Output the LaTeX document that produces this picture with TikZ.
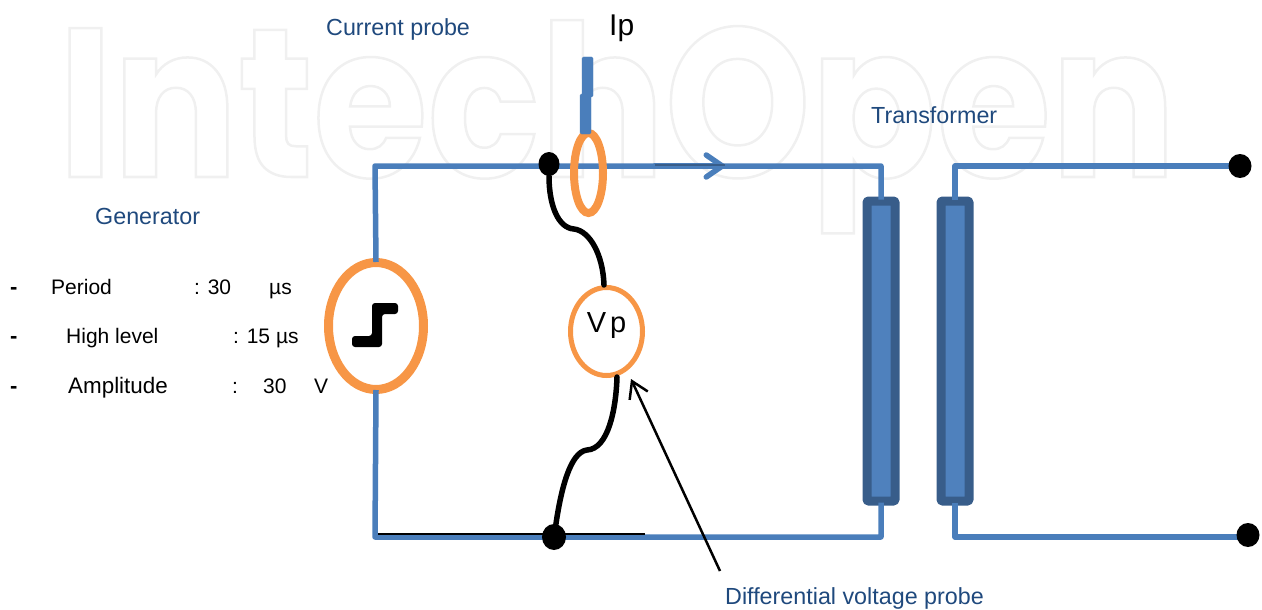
\documentclass[tikz,border=0pt]{standalone}
\usepackage{fontspec}
\setmainfont{Liberation Sans}
\newfontfamily\markfont[FakeStretch=0.875]{Poppins}
\usetikzlibrary{shapes.geometric,arrows.meta}
\definecolor{wireblue}{HTML}{4A7EBB}
\definecolor{coildark}{HTML}{385D8A}
\definecolor{coillight}{HTML}{4F81BD}
\definecolor{ringorange}{HTML}{F79646}
\definecolor{labelblue}{HTML}{1F497D}
\begin{document}
\begin{tikzpicture}[x=1pt,y=-1pt,
    wire/.style={draw=wireblue,line width=5.5pt,line join=round},
    probewire/.style={draw=black,line width=5.5pt,line cap=round},
    ring/.style={draw=ringorange,ellipse,inner sep=0pt},
    dot/.style={fill=black,ellipse,inner sep=0pt},
    coil/.style={draw=coildark,fill=coillight,line width=9pt,line join=round,rounded corners=1pt,minimum width=28pt,minimum height=300pt,inner sep=0pt},
    handle/.style={fill=wireblue,draw=wireblue,rounded corners=1.5pt,inner sep=0pt,minimum width=11pt,minimum height=40pt},
    title/.style={text=labelblue,font=\fontsize{23.3}{26}\selectfont,anchor=base west,inner sep=0pt},
    item/.style={text=black,font=\fontsize{21}{26}\selectfont,anchor=base west,inner sep=0pt},
    dashitem/.style={item,font=\bfseries\fontsize{22}{26}\selectfont}]
  \useasboundingbox (0,0) rectangle (1262,610);
  \node[anchor=base west,inner sep=0pt,text=black,font=\markfont\bfseries\fontsize{212}{212}\selectfont] (mark) at (58,177)
    {\special{pdf:code 0.94 G 2.5 w 1 Tr}IntechOpen\special{pdf:code 0 Tr 0 G}};

  \node[ring,line width=9pt,minimum width=95pt,minimum height=127pt] (gen) at (376,326) {};
  \node[ring,line width=5pt,minimum width=72pt,minimum height=88pt] (vp) at (606.5,331.5) {};
  \node[inner sep=0pt,font=\fontsize{29}{30}\selectfont,yshift=6pt] (vplabel) at (vp) {V\hspace{4pt}p};
  \node[coil] (coila) at (881,351) {};
  \node[coil] (coilb) at (955,351) {};

  \coordinate (corner1) at (375,166);
  \coordinate (corner2) at (881,166);
  \coordinate (corner3) at (375,537);
  \coordinate (corner4) at (881,537);
  \coordinate (corner5) at (955,166);
  \coordinate (corner6) at (955,537);
  \coordinate (arrowstart) at (655,166);
  \coordinate (arrowend) at (725,166);
  \coordinate (thinend) at (645,534);
  \coordinate (thinstart) at (378,534);
  \coordinate (notefoot) at (720,571);
  \coordinate (notetip) at (631,379);

  \draw[wire] ([yshift=-4pt]gen.north) -- (corner1) -- (corner2) -- ([yshift=-3pt]coila.north);
  \draw[wire] ([yshift=4pt]gen.south) -- (corner3) -- (corner4) -- ([yshift=3pt]coila.south);
  \draw[wire] ([yshift=-3pt]coilb.north) -- (corner5) -- (1240,166);
  \draw[wire] ([yshift=3pt]coilb.south) -- (corner6) -- (1248,537);
  \draw[wire,line cap=round,-{Straight Barb[length=16pt,width=22pt,round]}] (arrowstart) -- (arrowend);
  \draw[coildark,line width=1.2pt] (arrowstart) ++(0,-1) -- ([yshift=1pt]arrowend);
  \draw[black,line width=1.5pt] (thinstart) -- (thinend);

  \node[dot,minimum width=21pt,minimum height=24pt] (dota) at (549,164) {};
  \node[dot,minimum width=24pt,minimum height=26pt] (dotb) at (554,537) {};
  \node[dot,minimum width=23pt,minimum height=24pt] (dotc) at (1240,166) {};
  \node[dot,minimum width=23pt,minimum height=24pt] (dotd) at (1248,535) {};

  \draw[probewire] (dota) .. controls (549,205) and (558,228) .. (574,229)
    .. controls (590,231) and (603,255) .. (604,285);
  \draw[probewire] (617,377) .. controls (616,410) and (608,449) .. (587,450)
    .. controls (570,452) and (561,490) .. (dotb);

  \node[ring,line width=8pt,minimum width=29pt,minimum height=80pt] (clamp) at (588.5,173) {};
  \node[handle] (handlea) at (585.5,114) {};
  \node[handle] (handleb) at (587.5,77) {};

  \fill[black,rounded corners=3pt] (352,347) -- (352,336) -- (372,336) -- (372,303) -- (398,303) -- (398,314) -- (382,314) -- (382,347) -- cycle;

  \draw[black,line width=2.5pt,-{Straight Barb[length=16pt,width=20pt]}] (notefoot) -- (notetip);

  \node[title] (currentprobe) at (326,36) {Current probe};
  \node[anchor=base west,inner sep=0pt,font=\fontsize{30}{32}\selectfont] (ip) at (609,36) {Ip};
  \node[title] (transformer) at (871,123) {Transformer};
  \node[title] (generator) at (95,224) {Generator};
  \node[title] (voltageprobe) at (725,604) {Differential voltage probe};

  \node[dashitem] (dash1) at (10,294) {-};
  \node[item] (period) at (51,294) {Period};
  \node[item] (periodval) at (194,294) {: 30};
  \node[item] (periodunit) at (269,294) {µs};
  \node[dashitem] (dash2) at (10,343) {-};
  \node[item] (high) at (66,343) {High level};
  \node[item] (highval) at (233,343) {: 15 µs};
  \node[dashitem] (dash3) at (10,393) {-};
  \node[item,font=\fontsize{22.4}{26}\selectfont] (amp) at (68,393) {Amplitude};
  \node[item] (ampcolon) at (232,393) {:};
  \node[item] (ampval) at (263,393) {30};
  \node[item] (ampunit) at (314,393) {V};
\end{tikzpicture}
\end{document}
